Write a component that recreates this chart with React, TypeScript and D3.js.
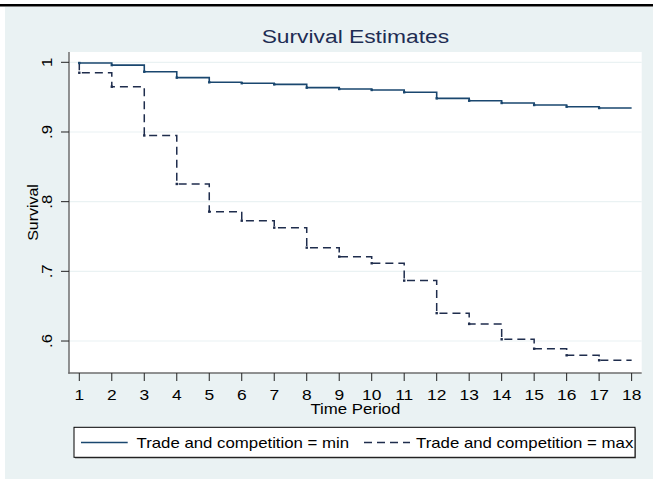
import React from "react";
import * as d3 from "d3";

const periods = [1, 2, 3, 4, 5, 6, 7, 8, 9, 10, 11, 12, 13, 14, 15, 16, 17, 18];
const survivalMin = [0.999, 0.996, 0.9865, 0.978, 0.9713, 0.970, 0.9684, 0.9636, 0.9617, 0.9603, 0.957, 0.9483, 0.9449, 0.9416, 0.9387, 0.9363, 0.9344, 0.9344];
const survivalMax = [0.985, 0.965, 0.895, 0.8254, 0.7857, 0.7727, 0.7627, 0.734, 0.7211, 0.7116, 0.6867, 0.64, 0.6245, 0.6025, 0.589, 0.5795, 0.5724, 0.5724];
const yTicks = [0.6, 0.7, 0.8, 0.9, 1];
const yTickLabels = [".6", ".7", ".8", ".9", "1"];
const legendLabels = ["Trade and competition = min", "Trade and competition = max"];

const W = 653, H = 479;
const L = 69, R = 641.7, T = 52, B = 373;
const SX = 1.2;

function stepPath(x: d3.ScaleLinear<number, number>, y: d3.ScaleLinear<number, number>, vals: number[]) {
  let p = `M${x(periods[0])},${y(1)}`;
  vals.forEach((v, i) => {
    const xi = x(periods[i]);
    p += `L${xi},${y(v)}`;
    if (i < vals.length - 1) p += `L${x(periods[i + 1])},${y(v)}`;
  });
  return p;
}

function Txt(props: { x: number; y: number; size: number; anchor?: string; rot?: number; fill?: string; sx?: number; children: React.ReactNode }) {
  const { x, y, size, anchor = "middle", rot = 0, fill = "#000", sx = SX, children } = props;
  return (
    <text transform={`translate(${x},${y}) rotate(${rot}) scale(${sx},1)`} textAnchor={anchor as any} fontSize={size} fill={fill}>
      {children}
    </text>
  );
}

export default function App() {
  const x = d3.scaleLinear().domain([0.683, 18.31]).range([L, R]);
  const y = d3.scaleLinear().domain([0.5541, 1.0148]).range([B, T]);
  const font = "'Liberation Sans', Arial, sans-serif";
  const c1 = "#1a476f";
  const c2 = "#1f2d4d";
  return (
    <svg width={W} height={H} style={{ position: "absolute", left: 0, top: 0, fontFamily: font }}>
      <rect x={0} y={0} width={W} height={H} fill="#ffffff" />
      <rect x={0} y={4} width={W} height={2.5} fill="#000" />
      <rect x={5} y={7} width={W - 5} height={H - 7} fill="#eaf2f3" />
      <Txt x={(L + R) / 2} y={43} size={19} fill="#1e2d53">Survival Estimates</Txt>
      <rect x={L} y={T} width={R - L} height={B - T} fill="#fff" />
      {yTicks.map((t) => (
        <line key={t} x1={L} x2={R} y1={y(t)} y2={y(t)} stroke="#eaf2f3" strokeWidth={1.2} />
      ))}
      <line x1={L} x2={L} y1={T} y2={B + 0.75} stroke="#6e6e6e" strokeWidth={1.5} />
      <line x1={L - 0.75} x2={R} y1={B} y2={B} stroke="#6e6e6e" strokeWidth={1.5} />
      {yTicks.map((t, i) => (
        <g key={t}>
          <line x1={L - 8} x2={L} y1={y(t)} y2={y(t)} stroke="#222" strokeWidth={1} />
          <Txt x={L - 17} y={y(t)} size={14} rot={-90}>{yTickLabels[i]}</Txt>
        </g>
      ))}
      {periods.map((p) => (
        <g key={p}>
          <line x1={x(p)} x2={x(p)} y1={B} y2={B + 8} stroke="#222" strokeWidth={1} />
          <Txt x={x(p)} y={400} size={14.5}>{p}</Txt>
        </g>
      ))}
      <Txt x={(L + R) / 2} y={414} size={14}>Time Period</Txt>
      <Txt x={38} y={(T + B) / 2} size={14} rot={-90} sx={1.14}>Survival</Txt>
      <path d={stepPath(x, y, survivalMin)} fill="none" stroke={c1} strokeWidth={1.6} />
      <path d={stepPath(x, y, survivalMax)} fill="none" stroke={c2} strokeWidth={1.5} strokeDasharray="8,5" />
      {survivalMin.slice(0, -1).map((v, i) => (
        <rect key={"a" + i} x={x(periods[i]) - 1.2} y={y(v) - 1.2} width={2.4} height={2.4} fill={c1} />
      ))}
      {survivalMax.slice(0, -1).map((v, i) => (
        <rect key={"b" + i} x={x(periods[i]) - 1.2} y={y(v) - 1.2} width={2.4} height={2.4} fill={c2} />
      ))}
      <rect x={75} y={428.5} width={561} height={30} fill="#888" />
      <rect x={74} y={427.3} width={561} height={30} fill="#fff" stroke="#000" strokeWidth={1} />
      <line x1={81} x2={127.7} y1={442.5} y2={442.5} stroke={c1} strokeWidth={1.6} />
      <Txt x={136.5} y={447.5} size={14} anchor="start">{legendLabels[0]}</Txt>
      <line x1={364} x2={410} y1={442.5} y2={442.5} stroke={c2} strokeWidth={1.5} strokeDasharray="8,5" />
      <Txt x={416} y={447.5} size={14} anchor="start">{legendLabels[1]}</Txt>
    </svg>
  );
}
